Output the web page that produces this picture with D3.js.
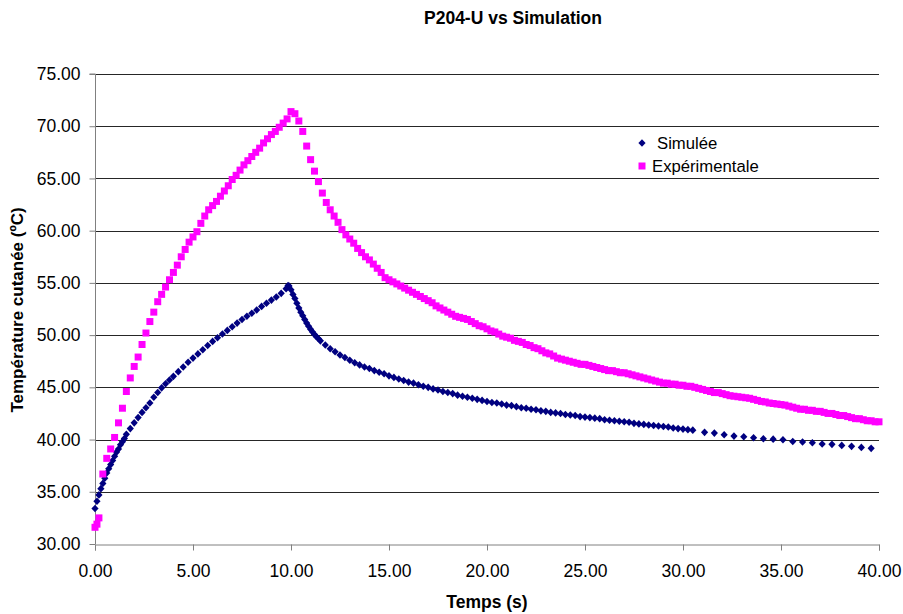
<!DOCTYPE html>
<html><head><meta charset="utf-8">
<script src="https://cdn.jsdelivr.net/npm/d3@7"></script>
<style>
html,body{margin:0;padding:0;background:#fff;}
svg{display:block;font-family:"Liberation Sans",Arial,sans-serif;}
</style></head>
<body>
<svg id="chart" width="903" height="614"></svg>
<script>
const chartTitle = "P204-U vs Simulation";
const xTitle = "Temps (s)";
const yTitle = "Température cutanée (ºC)";
const seriesNames = ["Simulée", "Expérimentale"];
const seriesColors = ["#000080", "#FF00FF"];
const xTicks = [0, 5, 10, 15, 20, 25, 30, 35, 40];
const yTicks = [30, 35, 40, 45, 50, 55, 60, 65, 70, 75];

// [time (s), temperature (°C)]
const simulee = [
[0,33.4],[0.1,34.1],[0.2,34.7],[0.3,35.3],[0.4,35.8],[0.5,36.3],[0.6,36.8],[0.7,37.2],[0.8,37.6],[0.9,38.0],[1.0,38.4],[1.1,38.8],[1.2,39.1],[1.3,39.5],[1.4,39.8],[1.5,40.1],
[1.6,40.5],[1.8,41.05],[2.0,41.6],[2.2,42.1],[2.4,42.6],[2.6,43.05],[2.8,43.5],[3.0,44.05],[3.2,44.5],[3.4,44.95],[3.6,45.35],[3.8,45.7],[4.0,46.05],
[4.25,46.5],[4.5,46.95],[4.75,47.4],[5.0,47.8],[5.25,48.2],[5.5,48.6],[5.75,49.0],[6.0,49.4],[6.25,49.75],[6.5,50.1],[6.75,50.45],[7.0,50.8],[7.25,51.15],[7.5,51.5],[7.75,51.8],[8.0,52.1],[8.25,52.4],[8.5,52.75],[8.75,53.05],[9.0,53.35],[9.25,53.65],[9.5,54.0],[9.75,54.45],[9.85,54.75],
[9.9,54.7],[10.0,54.35],[10.1,53.9],[10.2,53.5],[10.3,53.05],[10.4,52.6],[10.5,52.2],[10.6,51.85],[10.7,51.5],[10.8,51.15],[10.9,50.85],[11.0,50.55],[11.1,50.3],[11.2,50.05],[11.3,49.85],[11.4,49.65],[11.5,49.45],
[11.75,49.05],[12.0,48.7],[12.25,48.4],[12.5,48.1],[12.75,47.85],[13.0,47.6],[13.25,47.35],[13.5,47.15],[13.75,46.95],[14.0,46.8],[14.25,46.6],[14.5,46.45],[14.75,46.3],[15.0,46.1],[15.25,45.95],[15.5,45.8],[15.75,45.65],[16.0,45.5],[16.25,45.4],[16.5,45.25],[16.75,45.1],[17.0,45.0],[17.25,44.85],[17.5,44.75],[17.75,44.6],[18.0,44.5],[18.25,44.4],[18.5,44.25],[18.75,44.15],[19.0,44.05],[19.25,43.95],[19.5,43.85],[19.75,43.75],[20.0,43.65],[20.25,43.55],[20.5,43.5],[20.75,43.4],[21.0,43.3],[21.25,43.25],[21.5,43.15],[21.75,43.05],[22.0,43.0],[22.25,42.9],[22.5,42.85],[22.75,42.75],[23.0,42.7],[23.25,42.6],[23.5,42.55],[23.75,42.5],[24.0,42.4],[24.25,42.35],[24.5,42.3],[24.75,42.2],[25.0,42.15],[25.25,42.1],[25.5,42.05],[25.75,42.0],[26.0,41.9],[26.25,41.85],[26.5,41.8],[26.75,41.75],[27.0,41.7],[27.25,41.65],[27.5,41.55],[27.75,41.5],[28.0,41.45],[28.25,41.4],[28.5,41.35],[28.75,41.3],[29.0,41.25],[29.25,41.2],[29.5,41.1],[29.75,41.05],[30.0,41.0],[30.25,40.95],[30.5,40.9],
[31.1,40.69],[31.6,40.62],[32.1,40.46],[32.6,40.33],[33.1,40.27],[33.6,40.17],[34.1,40.07],[34.6,40.04],[35.1,39.98],[35.6,39.82],[36.1,39.76],[36.6,39.69],[37.1,39.57],[37.6,39.54],[38.1,39.44],[38.6,39.35],[39.1,39.25],[39.6,39.16]
];

const experimentale = [
[0,31.6],[0.1,31.9],[0.2,32.5],[0.4,36.7],[0.6,38.2],[0.8,39.1],[1,40.2],[1.2,41.6],[1.4,43.0],[1.6,44.6],[1.8,45.9],[2,47.0],[2.2,47.9],[2.4,49.1],[2.6,50.2],[2.8,51.3],[3,52.2],[3.2,53.2],[3.4,53.9],[3.6,54.6],[3.8,55.3],[4,56.0],[4.2,56.7],[4.4,57.5],[4.6,58.2],[4.8,58.9],[5,59.4],[5.2,59.9],[5.4,60.7],[5.6,61.4],[5.8,62.0],[6,62.4],[6.2,62.8],[6.4,63.3],[6.6,63.8],[6.8,64.3],[7,64.9],[7.2,65.3],[7.4,65.8],[7.6,66.3],[7.8,66.7],[8,67.1],[8.2,67.5],[8.4,67.9],[8.6,68.4],[8.8,68.8],[9,69.2],[9.2,69.5],[9.4,69.9],[9.6,70.3],[9.8,70.7],[10,71.4],
[10.2,71.2],[10.4,70.5],[10.6,69.5],[10.8,68.1],[11,66.8],[11.2,65.7],[11.4,64.7],[11.6,63.6],[11.8,62.7],[12,62.0],[12.2,61.4],[12.4,60.8],[12.6,60.1],[12.8,59.6],[13,59.2],[13.2,58.8],[13.4,58.3],[13.6,57.9],[13.8,57.5],[14,57.2],[14.2,56.8],[14.4,56.4],[14.6,56.0],[14.8,55.5],[15,55.3],[15.2,55.1],[15.4,54.9],[15.6,54.7],[15.8,54.5],[16,54.3],[16.2,54.1],[16.4,53.9],[16.6,53.7],[16.8,53.5],[17,53.3],[17.2,53.1],[17.4,52.8],[17.6,52.6],[17.8,52.4],[18,52.2],[18.2,52.0],[18.4,51.8],[18.6,51.7],[18.8,51.6],[19,51.5],[19.2,51.3],[19.4,51.1],[19.6,50.9],[19.8,50.8],[20,50.6],[20.2,50.4],[20.4,50.3],[20.6,50.1],[20.8,49.9],[21,49.8],[21.2,49.7],[21.4,49.5],[21.6,49.4],[21.8,49.3],[22,49.1],[22.2,49.0],[22.4,48.8],[22.6,48.7],[22.8,48.5],[23,48.3],[23.2,48.2],[23.4,48.0],[23.6,47.8],[23.8,47.7],[24,47.6],[24.2,47.5],[24.4,47.4],[24.6,47.3],[24.8,47.2],[25,47.2],[25.2,47.1],[25.4,47.0],[25.6,46.9],[25.8,46.8],[26,46.7],[26.2,46.6],[26.4,46.6],[26.6,46.5],[26.8,46.4],[27,46.4],[27.2,46.3],[27.4,46.2],[27.6,46.1],[27.8,46.0],[28,45.9],[28.2,45.8],[28.4,45.7],[28.6,45.6],[28.8,45.5],[29,45.4],[29.2,45.4],[29.4,45.3],[29.6,45.3],[29.8,45.2],[30,45.2],[30.2,45.1],[30.4,45.1],[30.6,45.0],[30.8,44.9],[31,44.8],[31.2,44.7],[31.4,44.6],[31.6,44.5],[31.8,44.5],[32,44.4],[32.2,44.3],[32.4,44.2],[32.6,44.15],[32.8,44.1],[33,44.05],[33.2,44.0],[33.4,43.95],[33.6,43.85],[33.8,43.75],[34,43.65],[34.2,43.6],[34.4,43.5],[34.6,43.45],[34.8,43.4],[35,43.35],[35.2,43.3],[35.4,43.2],[35.6,43.1],[35.8,43.0],[36,42.9],[36.2,42.9],[36.4,42.8],[36.6,42.8],[36.8,42.7],[37,42.7],[37.2,42.6],[37.4,42.5],[37.6,42.5],[37.8,42.4],[38,42.3],[38.2,42.3],[38.4,42.2],[38.6,42.1],[38.8,42.0],[39,42.0],[39.2,41.9],[39.4,41.8],[39.6,41.8],[39.8,41.7],[40,41.7]
];

const svg = d3.select("#chart");
const plotLeft = 95, plotRight = 879, plotTop = 74, plotBottom = 544;
const x = d3.scaleLinear().domain([0, 40]).range([plotLeft, plotRight]);
const y = d3.scaleLinear().domain([30, 75]).range([plotBottom, plotTop]);

// gridlines
svg.append("g").selectAll("line").data(yTicks.filter(d => d > 30)).join("line")
  .attr("x1", plotLeft).attr("x2", plotRight)
  .attr("y1", d => Math.round(y(d)) + 0.5).attr("y2", d => Math.round(y(d)) + 0.5)
  .attr("stroke", "#262626").attr("stroke-width", 1);

// y axis
const yAxis = svg.append("g").attr("transform", `translate(${plotLeft + 0.5},0)`)
  .call(d3.axisLeft(y).tickValues(yTicks).tickFormat(d3.format(".2f")).tickSize(6).tickPadding(9));
yAxis.select(".domain").attr("stroke", "#808080").attr("d", `M-6,${plotTop}H0V${plotBottom}`);
yAxis.selectAll(".tick line").attr("stroke", "#808080");
yAxis.selectAll(".tick text").attr("font-size", "17.5px").attr("fill", "#000")
  .attr("font-family", "Liberation Sans, Arial, sans-serif");

// x axis
const xAxis = svg.append("g").attr("transform", `translate(0,${plotBottom + 0.5})`)
  .call(d3.axisBottom(x).tickValues(xTicks).tickFormat(d3.format(".2f")).tickSize(6).tickPadding(14));
xAxis.select(".domain").attr("stroke", "#808080");
xAxis.selectAll(".tick line").attr("stroke", "#808080");
xAxis.selectAll(".tick text").attr("font-size", "17.5px").attr("fill", "#000")
  .attr("font-family", "Liberation Sans, Arial, sans-serif");

// markers
const diamond = "M0,-3.8L3.6,0L0,3.8L-3.6,0Z";
const square = "M-3.5,-3.5H3.5V3.5H-3.5Z";

svg.append("g").selectAll("path").data(simulee).join("path")
  .attr("d", diamond)
  .attr("transform", d => `translate(${x(d[0])},${y(d[1])})`)
  .attr("fill", seriesColors[0]);

svg.append("g").selectAll("path").data(experimentale).join("path")
  .attr("d", square)
  .attr("transform", d => `translate(${x(d[0])},${y(d[1])})`)
  .attr("fill", seriesColors[1]);

// legend
const legend = svg.append("g");
legend.append("path").attr("d", diamond).attr("transform", "translate(642,143)").attr("fill", seriesColors[0]);
legend.append("text").attr("x", 657).attr("y", 148.5).attr("font-size", "16.7px").text(seriesNames[0]);
legend.append("path").attr("d", square).attr("transform", "translate(642,166)").attr("fill", seriesColors[1]);
legend.append("text").attr("x", 652).attr("y", 171.5).attr("font-size", "16.7px").text(seriesNames[1]);

// titles
svg.append("text").attr("x", 513).attr("y", 24).attr("text-anchor", "middle")
  .attr("font-weight", "bold").attr("font-size", "17.5px").text(chartTitle);
svg.append("text").attr("x", 487).attr("y", 608).attr("text-anchor", "middle")
  .attr("font-weight", "bold").attr("font-size", "17.5px").text(xTitle);
svg.append("text").attr("transform", "translate(23,310) rotate(-90)").attr("text-anchor", "middle")
  .attr("font-weight", "bold").attr("font-size", "17px").text(yTitle);
</script>
</body></html>
